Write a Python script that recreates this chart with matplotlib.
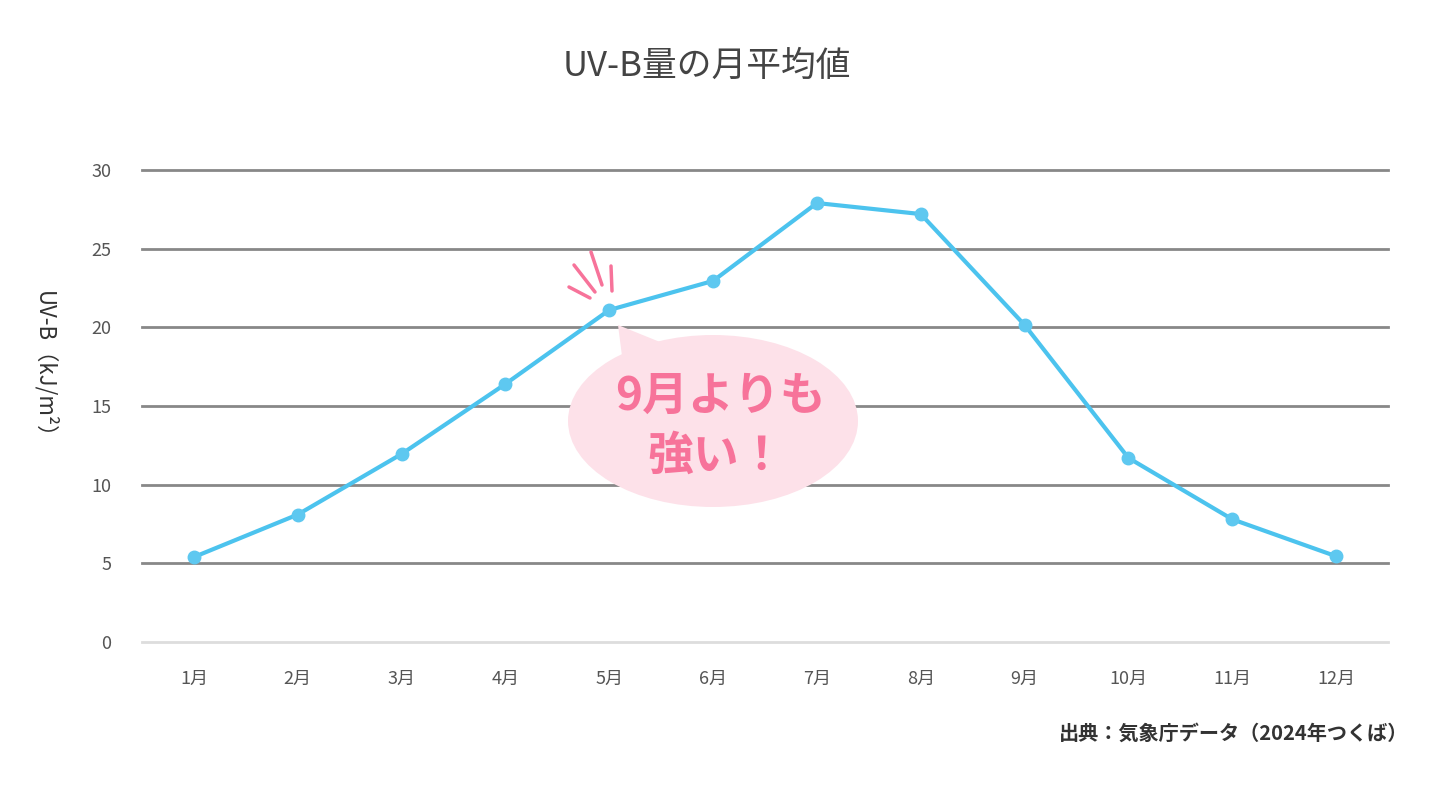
import matplotlib
matplotlib.use('Agg')
import matplotlib.pyplot as plt
from matplotlib.patches import Ellipse, Polygon
from matplotlib.lines import Line2D

plt.rcParams['font.family'] = ['Noto Sans CJK JP', 'DejaVu Sans']

months = ['1月', '2月', '3月', '4月', '5月', '6月', '7月', '8月', '9月', '10月', '11月', '12月']
uvb = [5.4, 8.1, 11.95, 16.4, 21.1, 22.95, 27.9, 27.2, 20.15, 11.7, 7.8, 5.45]
yticks = [0, 5, 10, 15, 20, 25, 30]

W, H = 1440, 800
fig = plt.figure(figsize=(14.4, 8), dpi=100)
ax = fig.add_axes([142 / W, 1 - 642 / H, (1388 - 142) / W, (642 - 170) / H])

def px(x, y):
    # pixel position in the figure -> figure fraction
    return (x / W, 1 - y / H)

x = list(range(len(months)))
for t in yticks:
    ax.axhline(t, color='#dddddd' if t == 0 else '#888888', linewidth=2, zorder=1, clip_on=False)
ax.plot(x, uvb, color='#4cc3ee', linewidth=3, marker='o', markersize=9,
        markerfacecolor='#5ec8f0', markeredgecolor='#5ec8f0', zorder=3, clip_on=False)

ax.set_xlim(-0.5, 11.5)
ax.set_ylim(0, 30)
ax.set_xticks(x)
ax.set_xticklabels(months)
ax.set_yticks(yticks)
ax.tick_params(length=0, labelsize=13, colors='#555555')
ax.tick_params(axis='x', pad=20)
ax.tick_params(axis='y', pad=22)
for s in ax.spines.values():
    s.set_visible(False)

fig.text(*px(707, 66), 'UV-B量の月平均値', ha='center', va='center', fontsize=25, color='#444444')
fig.text(*px(45, 370), 'UV-B（kJ/m²）', ha='center', va='center', rotation=270,
         fontsize=16, color='#333333')
fig.text(*px(1408, 733), '出典：気象庁データ（2024年つくば）', ha='right', va='center',
         fontsize=14.5, color='#333333', fontweight='bold')

# speech bubble
bubble = '#fde1e9'
fig.patches.append(Ellipse(px(713, 421), 290 / W, 172 / H, transform=fig.transFigure,
                           facecolor=bubble, edgecolor='none', zorder=4))
fig.patches.append(Polygon([px(618, 325), px(622, 356), px(660, 342)], closed=True,
                           transform=fig.transFigure, facecolor=bubble, edgecolor='none', zorder=4))
pink = '#f7739a'
fig.text(*px(720, 397), '9月よりも', ha='center', va='center', fontsize=33,
         fontweight='bold', color=pink, zorder=5)
fig.text(*px(716, 457), '強い！', ha='center', va='center', fontsize=33,
         fontweight='bold', color=pink, zorder=5)
for (x0, y0), (x1, y1) in [((569, 287), (590, 298)), ((574, 265), (595, 292)),
                           ((591, 252), (602, 285)), ((611, 266), (612, 291))]:
    a, b = px(x0, y0), px(x1, y1)
    fig.lines.append(Line2D([a[0], b[0]], [a[1], b[1]], transform=fig.transFigure,
                            color=pink, linewidth=2.5, solid_capstyle='round'))

fig.savefig('out.png', dpi=100, facecolor='white')
